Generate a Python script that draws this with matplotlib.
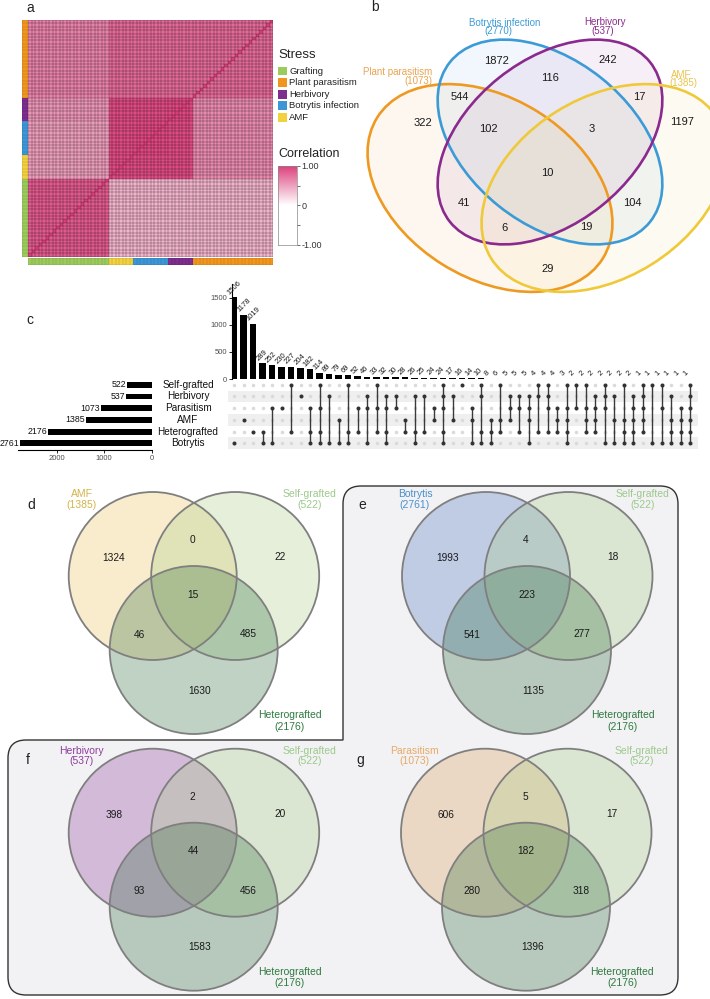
import numpy as np
import matplotlib
matplotlib.use('Agg')
import matplotlib.pyplot as plt
from matplotlib.patches import Rectangle, Circle, PathPatch, Ellipse
from matplotlib.path import Path
from matplotlib.colors import LinearSegmentedColormap, ListedColormap

plt.rcParams['font.family'] = ['Liberation Sans', 'DejaVu Sans']

# ======================= DATA =======================
# --- panel a : correlation heatmap (groups bottom->top, left->right)
stress_groups = ['Grafting', 'AMF', 'Botrytis infection', 'Herbivory', 'Plant parasitism']
group_sizes = [23, 7, 10, 7, 23]
group_colors = ['#9BCB5C', '#F2D03E', '#3D97D6', '#7D2E8E', '#F0961F']
block_corr = [[0.84, 0.38, 0.38, 0.38, 0.38],
              [0.50, 0.92, 0.92, 0.92, 0.60],
              [0.50, 0.92, 0.93, 0.92, 0.60],
              [0.54, 0.92, 0.92, 0.93, 0.60],
              [0.64, 0.76, 0.76, 0.76, 0.76]]
legend_order = ['Grafting', 'Plant parasitism', 'Herbivory', 'Botrytis infection', 'AMF']
cbar_ticks = [-1.0, 0.0, 1.0]
cbar_ticklabels = ['-1.00', '0', '1.00']

# --- panel b : 4-set Venn
venn4_names = ['Plant parasitism', 'Botrytis infection', 'Herbivory', 'AMF']
venn4_sizes = [1073, 2770, 537, 1385]
venn4_colors = ['#EE9A22', '#3C9BD6', '#8B2A8E', '#F0C93A']
venn4_label_colors = ['#E8A552', '#3C9BD6', '#8B2A8E', '#E9C44C']
venn4_counts = [1872, 242, 116, 544, 17, 322, 102, 3, 1197, 10, 41, 104, 6, 19, 29]

# --- panel c : UpSet
upset_sets = ['Self-grafted', 'Herbivory', 'Parasitism', 'AMF', 'Heterografted', 'Botrytis']
upset_codes = ['S', 'H', 'P', 'A', 'T', 'B']
upset_set_sizes = [522, 537, 1073, 1385, 2176, 2761]
upset_counts = [1506, 1178, 1019, 289, 252, 230, 227, 204, 182, 114, 89, 79, 69, 52, 46,
                33, 32, 30, 28, 26, 25, 24, 24, 17, 16, 14, 10, 8, 6, 5, 5, 5, 4, 4, 4,
                3, 2, 2, 2, 2, 2, 2, 2, 1, 1, 1, 1, 1, 1]
upset_members = ['B', 'A', 'T', 'TB', 'PB', 'P', 'ST', 'H', 'PTB', 'SPTB', 'HB', 'AB', 'STB',
                 'PT', 'HPB', 'SPT', 'HPTB', 'HP', 'AT', 'HTB', 'HT', 'PA', 'SHPTB', 'HA', 'S',
                 'PAB', 'SHTB', 'ATB', 'SAT', 'HPA', 'HPT', 'HPAB', 'SHT', 'SHPT', 'PAT',
                 'SPATB', 'SP', 'SPAT', 'HPAT', 'SHPB', 'HAB', 'SATB', 'HPATB', 'SHPAT', 'SB',
                 'SPB', 'HATB', 'PATB', 'SHPATB']
upset_yticks = [0, 500, 1000, 1500]
upset_xticks = [2000, 1000, 0]

# --- panels d-g : 3-set Venns  [only1, 1&2, only2, all, 1&3, 2&3, only3]
venn3_first = ['AMF', 'Botrytis', 'Herbivory', 'Parasitism']
venn3_first_sizes = [1385, 2761, 537, 1073]
venn3_first_fill = ['#E9C15A', '#4D74BF', '#8C3A9C', '#DE9C58']
venn3_first_text = ['#D4B449', '#4A90CB', '#8E3C9C', '#E6AA67']
selfgraft_size = 522
hetero_size = 2176
venn3_counts = [[1324, 0, 22, 15, 46, 485, 1630],
                [1993, 4, 18, 223, 541, 277, 1135],
                [398, 2, 20, 44, 93, 456, 1583],
                [606, 5, 17, 182, 280, 318, 1396]]
venn3_panels = ['d', 'e', 'f', 'g']

# ======================= FIGURE =======================
W, H = 710, 999
fig = plt.figure(figsize=(W / 100, H / 100), dpi=100)


def px_axes(x0, y0, x1, y1):
    return fig.add_axes([x0 / W, 1 - y1 / H, (x1 - x0) / W, (y1 - y0) / H])


bg = fig.add_axes([0, 0, 1, 1])
bg.set_xlim(0, W)
bg.set_ylim(H, 0)
bg.axis('off')

letter_kw = dict(fontsize=10, color='#222222', ha='center', va='center')


def grid_lines(ax, nx, ny, alpha=0.55, lw=0.35):
    ax.vlines(np.arange(nx + 1), 0, ny, color='black', alpha=alpha, lw=lw)
    ax.hlines(np.arange(ny + 1), 0, nx, color='black', alpha=alpha, lw=lw)


# ---------------- panel a ----------------
cmap = LinearSegmentedColormap.from_list('corr', [(0, '#FFFFFF'), (0.5, '#FFFFFF'), (1.0, '#DC3D7A')])
idx = np.repeat(np.arange(len(group_sizes)), group_sizes)
M = np.array(block_corr)[idx][:, idx]
np.fill_diagonal(M, 1.0)
n = len(idx)

ax_h = px_axes(28.3, 20, 273.3, 256.5)
ax_h.pcolormesh(M, cmap=cmap, vmin=-1, vmax=1, edgecolors='none')
grid_lines(ax_h, n, n)
ax_h.set_xlim(0, n)
ax_h.set_ylim(0, n)
ax_h.axis('off')

gcmap = ListedColormap(group_colors)
ax_l = px_axes(21.5, 20, 27.6, 256.5)
ax_l.pcolormesh(idx[:, None], cmap=gcmap, vmin=-0.5, vmax=4.5, edgecolors='none')
grid_lines(ax_l, 1, n, alpha=0.25, lw=0.3)
ax_l.set_xlim(0, 1)
ax_l.set_ylim(0, n)
ax_l.axis('off')
ax_bt = px_axes(28.3, 257.5, 273.3, 265)
ax_bt.pcolormesh(idx[None, :], cmap=gcmap, vmin=-0.5, vmax=4.5, edgecolors='none')
grid_lines(ax_bt, n, 1, alpha=0.25, lw=0.3)
ax_bt.set_xlim(0, n)
ax_bt.set_ylim(0, 1)
ax_bt.axis('off')

bg.text(30.7, 8, 'a', **letter_kw)
bg.text(278.3, 55, 'Stress', fontsize=9.5, ha='left', va='center', color='#222222')
for j, name in enumerate(legend_order):
    yc = 71 + 11.6 * j
    col = group_colors[stress_groups.index(name)]
    bg.add_patch(Rectangle((278.3, yc - 4.4), 8.4, 8.8, facecolor=col, edgecolor='none'))
    bg.text(289, yc, name, fontsize=6.8, ha='left', va='center', color='#222222')
bg.text(278, 154, 'Correlation', fontsize=9, ha='left', va='center', color='#222222')

ax_c = px_axes(278.3, 165.7, 296.7, 245)
grad = np.linspace(1, -1, 256)[:, None]
ax_c.imshow(grad, cmap=cmap, vmin=-1, vmax=1, aspect='auto', extent=[0, 1, -1, 1])
ax_c.set_xticks([])
ax_c.yaxis.tick_right()
ax_c.set_yticks(cbar_ticks)
ax_c.set_yticklabels(cbar_ticklabels)
ax_c.set_yticks([-0.5, 0.5], minor=True)
ax_c.tick_params(axis='y', which='both', length=2.5, width=0.5, labelsize=6.5, pad=1, colors='#333333')
for s in ax_c.spines.values():
    s.set_color('#888888')
    s.set_linewidth(0.5)

# ---------------- panel b ----------------
bg.text(375, 7, 'b', **letter_kw)
ell_geom = [((490, 188), 133, 90, 32),
            ((550, 142), 128, 82, 38.6),
            ((550, 142), 128, 82, -38.6),
            ((604, 188), 133, 90, -32)]
for (c, a, b, th), col in zip(ell_geom, venn4_colors):
    bg.add_patch(Ellipse(c, 2 * a, 2 * b, angle=th, facecolor=col, alpha=0.07, edgecolor='none'))
for (c, a, b, th), col in zip(ell_geom, venn4_colors):
    bg.add_patch(Ellipse(c, 2 * a, 2 * b, angle=th, facecolor='none', edgecolor=col, linewidth=1.9))

v4_pos = [(497, 61), (608, 60), (550, 78), (460, 97), (639, 97), (423, 123), (488, 129),
          (592, 129), (682, 122), (547, 173), (464, 203), (632, 203), (505, 228), (586, 227), (548, 269)]
for (x, y), v in zip(v4_pos, venn4_counts):
    bg.text(x, y, str(v), fontsize=8, ha='center', va='center', color='#1a1a1a')

bg.text(432, 72, venn4_names[0], fontsize=7, ha='right', va='center', color=venn4_label_colors[0])
bg.text(432, 80.5, '(%d)' % venn4_sizes[0], fontsize=7, ha='right', va='center', color=venn4_label_colors[0])
bg.text(504.7, 22.5, venn4_names[1], fontsize=7, ha='center', va='center', color=venn4_label_colors[1])
bg.text(498, 31.5, '(%d)' % venn4_sizes[1], fontsize=7, ha='center', va='center', color=venn4_label_colors[1])
bg.text(605.3, 21.7, venn4_names[2], fontsize=7, ha='center', va='center', color=venn4_label_colors[2])
bg.text(602.7, 30.7, '(%d)' % venn4_sizes[2], fontsize=7, ha='center', va='center', color=venn4_label_colors[2])
bg.text(681, 75, venn4_names[3], fontsize=7, ha='center', va='center', color=venn4_label_colors[3])
bg.text(683, 83.5, '(%d)' % venn4_sizes[3], fontsize=7, ha='center', va='center', color=venn4_label_colors[3])

# ---------------- panel c (UpSet) ----------------
bg.text(30, 320, 'c', **letter_kw)
ncol = len(upset_counts)
ax_b = px_axes(232, 283.5, 698, 379)
ax_b.bar(np.arange(ncol), upset_counts, width=0.68, color='black')
ax_b.set_xlim(-0.21, 48.84)
ax_b.set_ylim(0, 1760)
for s in ['top', 'right', 'bottom']:
    ax_b.spines[s].set_visible(False)
ax_b.spines['left'].set_linewidth(0.8)
ax_b.set_xticks([])
ax_b.set_yticks(upset_yticks)
ax_b.tick_params(axis='y', length=2.5, width=0.6, labelsize=5.5, pad=1, labelcolor='#4d4d4d')
ax_b.patch.set_alpha(0)
for i, v in enumerate(upset_counts):
    ax_b.text(i - 0.28, v + 22, str(v), rotation=45, rotation_mode='anchor',
              ha='left', va='bottom', fontsize=5.5, color='#1a1a1a')

ax_m = px_axes(228, 379, 698, 449.3)
ax_m.set_xlim(-0.632, 48.84)
ax_m.set_ylim(5.51, -0.486)
ax_m.axis('off')
for k in [1, 3, 5]:
    ax_m.axhspan(k - 0.5, k + 0.5, color='#EFEFEF', zorder=0, lw=0)
for i, mem in enumerate(upset_members):
    act = [k for k, c in enumerate(upset_codes) if c in mem]
    ina = [k for k, c in enumerate(upset_codes) if c not in mem]
    ax_m.scatter([i] * len(ina), ina, s=6.5, color='#DADADA', zorder=2, linewidths=0)
    if len(act) > 1:
        ax_m.plot([i, i], [min(act), max(act)], color='#3a3a3a', lw=1.0, zorder=3)
    ax_m.scatter([i] * len(act), act, s=8.5, color='#333333', zorder=4, linewidths=0)

ax_s = px_axes(18, 379, 151.7, 449.8)
ax_s.barh(np.arange(6), upset_set_sizes, height=0.5, color='black')
ax_s.set_xlim(2810, 0)
ax_s.set_ylim(5.55, -0.49)
for s in ['top', 'right', 'left']:
    ax_s.spines[s].set_visible(False)
ax_s.spines['bottom'].set_linewidth(0.8)
ax_s.set_yticks([])
ax_s.set_xticks(upset_xticks)
ax_s.tick_params(axis='x', length=2.5, width=0.6, labelsize=5.5, pad=1, labelcolor='#4d4d4d')
ax_s.patch.set_alpha(0)
for k, v in enumerate(upset_set_sizes):
    ax_s.text(v + 15, k, str(v), ha='right', va='center', fontsize=6.3, color='#111111')
for k, name in enumerate(upset_sets):
    bg.text(188, 384.7 + 11.72 * k, name, ha='center', va='center', fontsize=7.2, color='#111111')

# ---------------- panels d-g ----------------
# L-shaped shaded frame around e, f, g
xlft, xmid, xrgt, ytop, ymid, ybot, r = 8, 343, 678, 486, 740, 995, 18
verts = [(xmid, ymid), (xmid, ytop + r), (xmid, ytop), (xmid + r, ytop), (xrgt - r, ytop),
         (xrgt, ytop), (xrgt, ytop + r), (xrgt, ybot - r), (xrgt, ybot), (xrgt - r, ybot),
         (xlft + r, ybot), (xlft, ybot), (xlft, ybot - r), (xlft, ymid + r), (xlft, ymid),
         (xlft + r, ymid), (xmid, ymid), (xmid, ymid)]
codes = [Path.MOVETO, Path.LINETO, Path.CURVE3, Path.CURVE3, Path.LINETO,
         Path.CURVE3, Path.CURVE3, Path.LINETO, Path.CURVE3, Path.CURVE3,
         Path.LINETO, Path.CURVE3, Path.CURVE3, Path.LINETO, Path.CURVE3,
         Path.CURVE3, Path.LINETO, Path.CLOSEPOLY]
bg.add_patch(PathPatch(Path(verts, codes), facecolor='#F2F2F4', edgecolor='#333333', lw=1.0, zorder=0))

bases = [(152.7, 576), (486, 576), (152.7, 832.7), (485, 832.7)]
letter_pos = [(31.7, 505), (362, 505), (28, 760), (360.7, 760)]
rad = 84
sg_fill, het_fill = '#A9CB86', '#2E6B3C'
sg_text, het_text = '#9CC98A', '#2F7A40'
num_off = [(-38.7, -18), (40, -35.7), (127, -19), (40.6, 18.5), (-13.5, 58.5), (96, 58), (47.3, 114.5)]
for p in range(4):
    bx, by = bases[p]
    cents = [(bx, by), (bx + 82.5, by), (bx + 41, by + 74)]
    fills = [venn3_first_fill[p], sg_fill, het_fill]
    for (cx, cy), f in zip(cents, fills):
        bg.add_patch(Circle((cx, cy), rad, facecolor=f, alpha=0.3, edgecolor='none', zorder=1))
    for (cx, cy) in cents:
        bg.add_patch(Circle((cx, cy), rad, facecolor='none', edgecolor='#7f7f7f', lw=1.3, zorder=2))
    for (dx, dy), v in zip(num_off, venn3_counts[p]):
        bg.text(bx + dx, by + dy, str(v), fontsize=7.3, ha='center', va='center', color='#1a1a1a', zorder=3)
    bg.text(bx - 71, by - 82, venn3_first[p], fontsize=7.5, ha='center', va='center', color=venn3_first_text[p])
    bg.text(bx - 71, by - 71.5, '(%d)' % venn3_first_sizes[p], fontsize=7.5, ha='center', va='center', color=venn3_first_text[p])
    bg.text(bx + 157, by - 82, 'Self-grafted', fontsize=7.5, ha='center', va='center', color=sg_text)
    bg.text(bx + 157, by - 71.5, '(%d)' % selfgraft_size, fontsize=7.5, ha='center', va='center', color=sg_text)
    bg.text(bx + 137, by + 139.5, 'Heterografted', fontsize=7.5, ha='center', va='center', color=het_text)
    bg.text(bx + 137, by + 150.5, '(%d)' % hetero_size, fontsize=7.5, ha='center', va='center', color=het_text)
    bg.text(letter_pos[p][0], letter_pos[p][1], venn3_panels[p], **letter_kw)

fig.savefig('out.png', dpi=100)
